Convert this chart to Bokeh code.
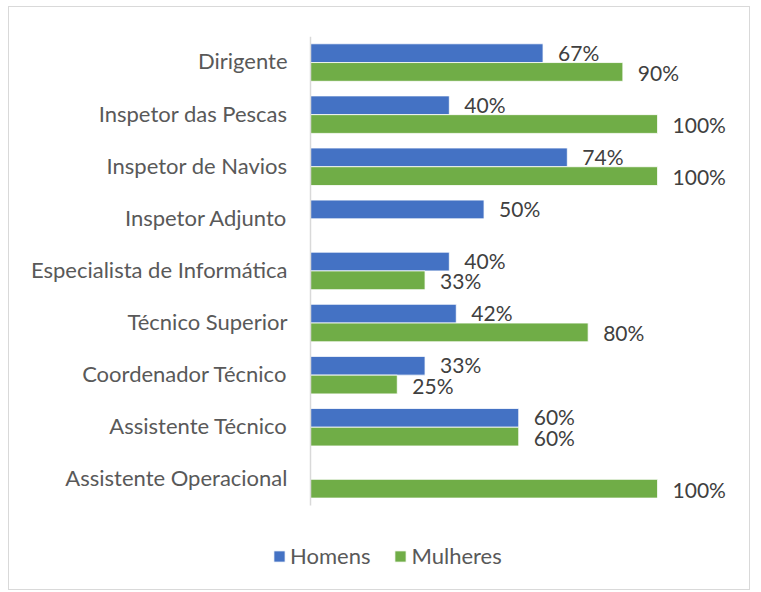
from bokeh.plotting import figure
from bokeh.models import ColumnDataSource, Legend, LegendItem, Range1d, FixedTicker
from bokeh.core.properties import value
from bokeh.embed import file_html
from bokeh.resources import INLINE

categories = ["Dirigente", "Inspetor das Pescas", "Inspetor de Navios", "Inspetor Adjunto",
              "Especialista de Informática", "Técnico Superior", "Coordenador Técnico",
              "Assistente Técnico", "Assistente Operacional"]
homens = [67, 40, 74, 50, 40, 42, 33, 60, None]
mulheres = [90, 100, 100, None, 33, 80, 25, 60, 100]
series_names = ["Homens", "Mulheres"]
colors = ["#4472C4", "#70AD47"]

FONT = "Lato"
TXT = "#595959"
LAB = "#404040"

n = len(categories)
centers = [n - i - 0.5 for i in range(n)]   # top to bottom
label_nudge = 0.03                           # small upward nudge for category labels
label_ticks = [c + label_nudge for c in centers]

p = figure(width=742, height=584, output_backend="svg", toolbar_location=None,
           y_range=Range1d(-1.653, n), x_range=Range1d(-10.95, 125.05),
           x_axis_location=None,
           min_border_left=263, min_border_top=29, min_border_bottom=0, min_border_right=7)
p.outline_line_color = None
p.grid.visible = False
p.background_fill_color = "white"
p.border_fill_color = "white"
p.styles = {"border": "1px solid #D9D9D9", "margin-left": "8px", "margin-top": "6px"}

yax = p.yaxis[0]
yax.ticker = FixedTicker(ticks=label_ticks)
yax.major_label_overrides = {t: name for t, name in zip(label_ticks, categories)}
yax.axis_line_color = None
yax.major_tick_line_color = None
yax.minor_tick_line_color = None
yax.major_tick_out = 0
yax.major_tick_in = 0
yax.major_label_standoff = -15
yax.major_label_text_font = FONT
yax.major_label_text_font_size = "22px"
yax.major_label_text_color = TXT

offsets = [0.18, -0.18]
label_shift = [0.02, -0.01]
renderers = []
for vals, name, col, off, sh in zip([homens, mulheres], series_names, colors, offsets, label_shift):
    ys = [c + off for c, v in zip(centers, vals) if v is not None]
    vs = [v for v in vals if v is not None]
    src = ColumnDataSource(dict(y=ys, ylab=[y + sh for y in ys], val=vs,
                                lab=[f"{v}%" for v in vs]))
    r = p.hbar(y="y", right="val", left=0, height=0.36,
               source=src, fill_color=col, line_color="white", line_width=0.8)
    renderers.append(r)
    p.text(x="val", y="ylab", text="lab", source=src,
           x_offset=15, text_baseline="middle", text_align="left",
           text_font=value(FONT), text_font_size="21px", text_color=LAB)

# category axis line at x = 0 spanning the category band
p.segment(x0=[0], y0=[0], x1=[0], y1=[n], line_color="#D9D9D9", line_width=1.5)

legend = Legend(items=[LegendItem(label=nm, renderers=[r]) for nm, r in zip(series_names, renderers)],
                orientation="horizontal", location=(0, 22),
                glyph_width=14, glyph_height=14, label_standoff=4, spacing=23,
                padding=0, margin=0, border_line_color=None, background_fill_alpha=0,
                label_text_font=FONT, label_text_font_size="22px", label_text_color=TXT)
p.add_layout(legend, "center")

open("out.html", "w").write(file_html(p, INLINE))
